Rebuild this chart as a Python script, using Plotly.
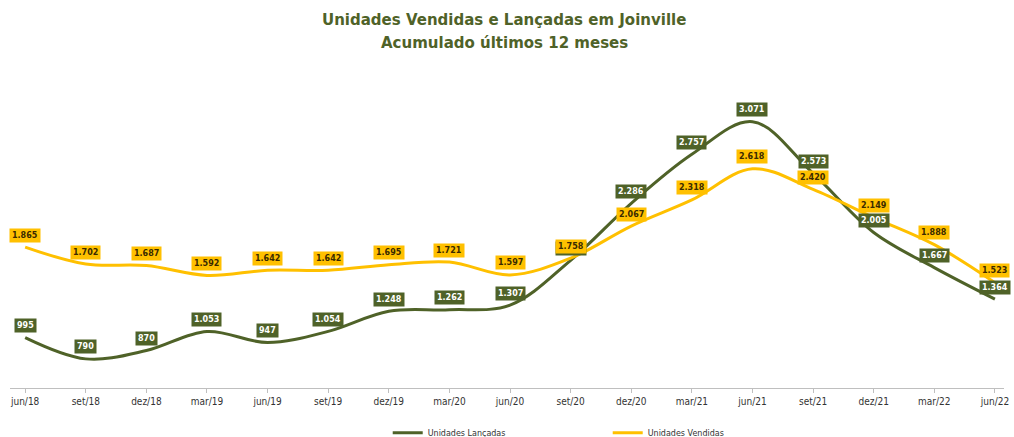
import plotly.graph_objects as go

meses = ["jun/18", "set/18", "dez/18", "mar/19", "jun/19", "set/19", "dez/19", "mar/20", "jun/20",
         "set/20", "dez/20", "mar/21", "jun/21", "set/21", "dez/21", "mar/22", "jun/22"]
lancadas = [995, 790, 870, 1053, 947, 1054, 1248, 1262, 1307, 1738, 2286, 2757, 3071, 2573, 2005, 1667, 1364]
vendidas = [1865, 1702, 1687, 1592, 1642, 1642, 1695, 1721, 1597, 1758, 2067, 2318, 2618, 2420, 2149, 1888, 1523]

verde = "#4f6228"
amarelo = "#ffc000"

def fmt(v):
    return f"{v:,}".replace(",", ".")

fig = go.Figure()
fig.add_trace(go.Scatter(x=meses, y=lancadas, mode="lines", name="Unidades Lançadas",
                         line=dict(color=verde, width=3, shape="spline", smoothing=1.0)))
fig.add_trace(go.Scatter(x=meses, y=vendidas, mode="lines", name="Unidades Vendidas",
                         line=dict(color=amarelo, width=3, shape="spline", smoothing=1.0)))

annots = []
for m, v in zip(meses, lancadas):
    annots.append(dict(x=m, y=v, text="<b>" + fmt(v) + "</b>", showarrow=False, yshift=12,
                       bgcolor=verde, borderpad=2,
                       font=dict(family="DejaVu Sans", size=8, color="white")))
for m, v in zip(meses, vendidas):
    annots.append(dict(x=m, y=v, text="<b>" + fmt(v) + "</b>", showarrow=False, yshift=12,
                       bgcolor=amarelo, borderpad=2,
                       font=dict(family="DejaVu Sans", size=8, color="#3a2a00")))

titulo = ["Unidades Vendidas e Lançadas em Joinville", "Acumulado últimos 12 meses"]
for txt, yy in zip(titulo, [1.178, 1.107]):
    annots.append(dict(x=0.497, y=yy, xref="paper", yref="paper", text="<b>" + txt + "</b>",
                       showarrow=False, xanchor="center", yanchor="middle",
                       font=dict(family="DejaVu Sans", size=15, color=verde)))

fig.update_layout(
    width=1014, height=437,
    paper_bgcolor="white", plot_bgcolor="white",
    margin=dict(l=10, r=10, t=76, b=49, autoexpand=False),
    annotations=annots,
    showlegend=True,
    legend=dict(orientation="h", x=0.38, xanchor="left", y=0.01, yanchor="middle", yref="container",
                entrywidth=175, font=dict(family="DejaVu Sans", size=8, color="#333")),
    xaxis=dict(showgrid=False, showline=True, linecolor="#bfbfbf", ticks="outside",
               tickcolor="#bfbfbf", ticklen=4, range=[-0.25, 16.15], automargin=False,
               tickfont=dict(family="DejaVu Sans Condensed", size=10, color="#333")),
    yaxis=dict(range=[510, 3510], showgrid=False, showticklabels=False, zeroline=False,
               showline=False, automargin=False),
)

fig.write_html("out.html", config={"displayModeBar": False},
               post_script="document.body.style.margin='0';")
